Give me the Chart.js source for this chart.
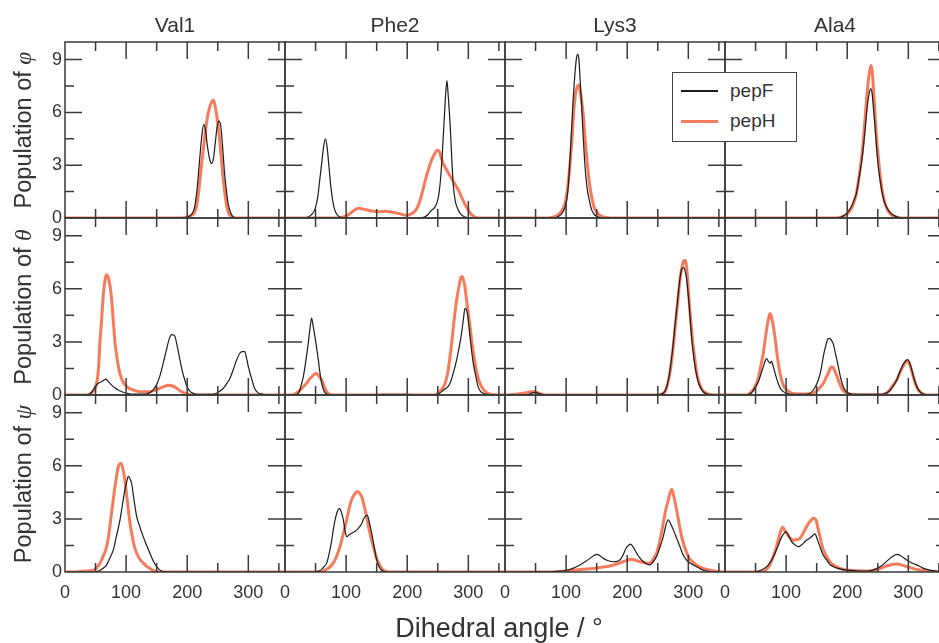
<!DOCTYPE html>
<html><head><meta charset="utf-8">
<script src="https://cdn.jsdelivr.net/npm/chart.js@4/dist/chart.umd.min.js"></script>
<style>
html,body{margin:0;padding:0;background:#fff;overflow:hidden;}
#wrap{position:relative;width:939px;height:643px;overflow:hidden;background:#fff;}
#wrap canvas{position:absolute;left:0;top:0;}
.t{position:absolute;font-family:'Liberation Sans',Arial,sans-serif;color:#333;white-space:nowrap;text-align:center;}
.sym{font-family:'Liberation Serif','DejaVu Serif',serif;font-style:italic;}
</style></head><body><div id="wrap"></div>
<script>
// ---- data ----
const residues = ['Val1','Phe2','Lys3','Ala4'];
const angleNames = ['φ','θ','ψ'];
const seriesNames = ['pepF','pepH'];
const xTickLabels = [0,100,200,300];
const yTickLabels = [0,3,6,9];

const val1PhiF = [[0,0],[190,0],[200,0.05],[207,0.2],[212,0.6],[216,1.6],[220,3.2],[224,4.7],[227,5.3],[230,5.0],[233,4.1],[237,3.3],[240,3.1],[243,3.4],[246,4.3],[249,5.2],[252,5.5],[255,5.2],[258,4.0],[261,2.6],[264,1.6],[267,0.8],[271,0.3],[276,0.05],[282,0],[360,0]];
const val1PhiH = [[0,0],[190,0],[200,0.05],[207,0.15],[212,0.3],[216,0.8],[220,1.9],[224,3.2],[228,4.4],[232,5.5],[236,6.2],[240,6.6],[243,6.7],[246,6.3],[250,5.4],[254,4.1],[258,2.5],[262,1.3],[265,0.6],[269,0.2],[274,0.05],[280,0],[360,0]];
const phe2PhiF = [[0,0],[32,0],[38,0.05],[42,0.15],[46,0.3],[50,0.6],[54,1.3],[57,2.2],[60,3.1],[63,4.0],[66,4.5],[69,4.0],[72,2.9],[75,1.8],[78,1.0],[81,0.5],[85,0.2],[90,0.05],[98,0],[220,0],[228,0.05],[234,0.2],[240,0.45],[245,0.6],[249,0.9],[252,1.4],[255,2.4],[258,4.0],[261,5.9],[263,7.1],[265,7.8],[267,7.0],[269,6.0],[271,4.8],[273,3.3],[275.5,1.8],[279,0.9],[283,0.5],[288,0.2],[295,0.05],[305,0],[360,0]];
const phe2PhiH = [[0,0],[88,0],[95,0.05],[102,0.15],[110,0.35],[116,0.5],[122,0.55],[128,0.5],[135,0.45],[145,0.38],[155,0.35],[165,0.38],[172,0.35],[180,0.3],[190,0.22],[199,0.15],[205,0.2],[210,0.3],[215,0.5],[220,0.9],[225,1.5],[230,2.2],[235,2.8],[240,3.3],[245,3.65],[249,3.85],[252,3.8],[256,3.4],[260,3.0],[265,2.7],[270,2.4],[275,2.1],[280,1.8],[285,1.5],[290,1.1],[295,0.75],[300,0.45],[305,0.2],[310,0.07],[318,0],[360,0]];
const lys3PhiF = [[0,0],[80,0],[88,0.1],[94,0.3],[98,0.6],[101,1.0],[104,2.0],[108,4.4],[111,6.4],[114,8.0],[117,9.1],[119,9.3],[121,9.0],[123,7.8],[125.5,6.3],[128,4.6],[131,2.9],[134,1.8],[138,1.0],[142,0.45],[147,0.17],[153,0.05],[160,0],[360,0]];
const lys3PhiH = [[0,0],[70,0],[78,0.05],[86,0.15],[92,0.35],[98,0.8],[102,1.6],[106,2.9],[110,4.7],[113,6.3],[116,7.2],[119,7.5],[121,7.55],[124,7.0],[128,5.9],[131,4.5],[134.7,3.1],[138,2.0],[141.8,1.2],[146,0.6],[152,0.26],[158,0.1],[166,0.03],[175,0],[360,0]];
const ala4PhiF = [[0,0],[180,0],[190,0.05],[199,0.26],[206,0.6],[211,1.0],[215,1.4],[220,2.4],[224,3.3],[227,4.2],[230,5.3],[233,6.4],[236,7.1],[238.5,7.35],[241,7.0],[243,6.2],[245.5,5.2],[248,4.0],[251,2.9],[254,2.1],[258,1.3],[262,0.8],[268,0.4],[275,0.17],[285,0.03],[295,0],[360,0]];
const ala4PhiH = [[0,0],[180,0],[190,0.05],[199,0.2],[206,0.5],[211,0.9],[215,1.4],[220,2.5],[224,3.6],[227,4.7],[230,6.0],[233,7.3],[236,8.2],[239,8.66],[241,8.3],[243,7.3],[245.5,5.9],[248,4.6],[251,3.4],[254,2.4],[258,1.4],[262,0.8],[268,0.35],[275,0.12],[285,0.02],[295,0],[360,0]];

const val1ThetaF = [[0,0],[35,0],[42,0.1],[46,0.28],[50,0.5],[55,0.68],[60,0.75],[64,0.85],[67,0.9],[70,0.8],[73,0.68],[76,0.57],[81,0.42],[87,0.28],[94,0.17],[101,0.1],[115,0.05],[130,0.05],[138,0.12],[144,0.28],[150,0.6],[155,1.05],[160,1.7],[166,2.55],[170,3.1],[174,3.4],[177,3.4],[180,3.3],[184,2.7],[188,2.0],[192,1.35],[196,0.85],[200,0.45],[205,0.19],[212,0.07],[221,0.04],[240,0.04],[248,0.1],[255,0.25],[260,0.42],[265,0.66],[270,0.95],[275,1.4],[280,1.9],[286,2.36],[290,2.45],[294,2.45],[297,2.1],[300,1.6],[303,1.2],[306,0.85],[310,0.4],[315,0.15],[320,0.06],[326,0.02],[335,0],[360,0]];
const val1ThetaH = [[0,0],[35,0],[41,0.05],[46,0.2],[50,0.45],[53,0.9],[55,1.6],[57,2.9],[60,4.3],[63,5.8],[66,6.6],[68,6.8],[71,6.6],[74,6.1],[76,5.5],[79,4.2],[82,2.9],[86,1.9],[90,1.2],[95,0.75],[101,0.47],[110,0.3],[122,0.19],[139,0.19],[147,0.27],[155,0.38],[162,0.48],[169,0.55],[175,0.52],[183,0.38],[190,0.2],[196,0.1],[204,0.02],[212,0],[360,0]];
const phe2ThetaF = [[0,0],[15,0],[22,0.1],[26,0.5],[30,1.04],[34,1.9],[38,2.9],[41,3.8],[43.6,4.34],[46,3.9],[49,3.3],[52,2.6],[54.5,2.0],[57,1.3],[60,0.66],[63,0.3],[66,0.1],[70,0.03],[78,0],[150,0],[160,0.04],[200,0.04],[215,0],[245,0],[253,0.1],[260,0.3],[266,0.45],[270,0.66],[275,1.2],[281,2.0],[285,2.7],[289,3.5],[292,4.3],[294.5,4.9],[297,4.8],[299,4.5],[302.7,3.3],[305,2.6],[308,1.8],[312,1.1],[316,0.47],[320,0.2],[324.5,0.1],[332,0.02],[340,0],[360,0]];
const phe2ThetaH = [[0,0],[12,0],[18,0.1],[24,0.25],[30,0.47],[36,0.7],[41,0.94],[46,1.1],[51,1.23],[55,1.1],[60,0.85],[64,0.5],[68,0.19],[73,0.03],[80,0],[245,0],[250,0.1],[256,0.3],[262,0.66],[266,1.2],[269,1.9],[272.7,2.9],[276,4.0],[281,5.4],[285,6.2],[288,6.65],[290,6.7],[292,6.5],[294.5,6.1],[297,5.4],[300,4.6],[302.7,3.9],[306,2.9],[310.9,1.8],[315,1.1],[319,0.66],[324,0.35],[330,0.13],[338,0.03],[345,0],[360,0]];
const lys3ThetaF = [[0,0],[35,0],[40,0.05],[45,0.12],[50,0.15],[55,0.08],[62,0.02],[70,0],[250,0],[255,0.05],[259,0.1],[263,0.3],[267,0.8],[270,1.4],[274,2.5],[278,3.9],[282,5.2],[286,6.5],[289,7.1],[292,7.2],[294,7.1],[297,6.6],[300,5.6],[303,4.3],[305.5,3.2],[309,2.1],[313.6,1.1],[318,0.55],[324.5,0.17],[332,0.04],[341,0],[360,0]];
const lys3ThetaH = [[0,0],[5,0],[15,0.03],[25,0.08],[35,0.13],[42,0.18],[47,0.2],[52,0.15],[58,0.07],[65,0],[250,0],[256,0.05],[260,0.12],[264,0.35],[268,0.9],[271,1.5],[275,2.6],[279,4.0],[283,5.4],[287,6.7],[290,7.3],[293,7.6],[295,7.6],[298,6.9],[300,5.9],[303,4.6],[306,3.4],[310,2.2],[314,1.2],[319,0.55],[325,0.2],[333,0.05],[342,0],[360,0]];
const ala4ThetaF = [[0,0],[35,0],[40,0.05],[44,0.15],[49,0.4],[54.5,0.75],[59,1.2],[62.7,1.6],[66,1.95],[68,2.05],[71,1.9],[74,1.8],[76,1.9],[79,1.6],[83,1.1],[87,0.66],[91,0.35],[95.5,0.19],[102,0.08],[112,0.03],[125,0.03],[135,0.05],[140,0.12],[146,0.35],[152.7,0.85],[157,1.4],[161,2.2],[165,2.8],[168,3.15],[171,3.2],[174,3.1],[177,2.9],[181,2.3],[185.5,1.6],[189,1.0],[193.6,0.47],[198,0.2],[204.6,0.08],[212,0.03],[230,0.03],[255,0.03],[262,0.08],[268,0.2],[274,0.45],[281,0.85],[286,1.3],[291.8,1.75],[296,1.95],[299,2.0],[302,1.85],[305,1.5],[308,1.1],[312,0.65],[316,0.33],[320,0.15],[326,0.04],[335,0],[360,0]];
const ala4ThetaH = [[0,0],[35,0],[41,0.1],[46,0.3],[51.8,0.66],[56,1.2],[59,1.7],[62.7,2.36],[66,3.2],[70,4.1],[73.6,4.6],[76,4.4],[79,3.9],[82,3.2],[86,2.1],[90,1.23],[95,0.6],[101,0.28],[108,0.12],[117,0.06],[135,0.06],[145,0.12],[150,0.22],[155,0.4],[161,0.66],[165,0.95],[169,1.23],[172,1.5],[175,1.6],[178,1.5],[182.7,1.1],[187,0.7],[191,0.38],[195,0.2],[199,0.1],[206,0.04],[215,0.02],[255,0.02],[262,0.08],[268,0.22],[274,0.5],[281,0.85],[286,1.25],[291.8,1.65],[296,1.85],[299,1.9],[302,1.75],[305,1.45],[308,1.04],[312,0.6],[316,0.3],[319,0.19],[324,0.06],[330,0],[360,0]];

const val1PsiF = [[0,0],[45,0],[52,0.03],[58,0.1],[64,0.25],[68.2,0.4],[73,0.75],[79,1.25],[84,2.0],[90,2.94],[94,3.8],[98,4.64],[101,5.1],[103.5,5.4],[106,5.3],[109,5.0],[112,4.3],[115,3.6],[117.3,3.13],[122,2.6],[128,2.0],[133,1.55],[139,1.06],[144,0.65],[150,0.3],[155,0.12],[161,0.02],[170,0],[360,0]];
const val1PsiH = [[0,0],[15,0],[25,0.03],[35,0.05],[46.4,0.1],[52,0.25],[57.3,0.5],[62,0.85],[68.2,1.43],[72,2.2],[76,3.3],[79,4.1],[83,5.1],[87.3,5.96],[91.7,6.15],[95,5.8],[98,5.2],[101,4.3],[104,3.4],[106.4,2.75],[110,2.0],[113,1.5],[117.3,1.06],[122,0.75],[128,0.5],[134,0.32],[139,0.2],[145,0.08],[150,0.02],[158,0],[360,0]];
const phe2PsiF = [[0,0],[48,0],[55,0.05],[60,0.15],[64,0.3],[68.2,0.5],[72,1.0],[76,1.7],[79,2.38],[83,3.1],[86,3.45],[88.9,3.6],[92,3.4],[95.5,2.94],[98,2.4],[100.9,2.0],[105,2.1],[109,2.19],[115,2.3],[120,2.47],[125,2.7],[128,2.95],[131,3.13],[134.7,3.2],[138,2.8],[141.8,2.19],[146,1.4],[150,0.68],[154,0.3],[158,0.1],[163,0.02],[170,0],[360,0]];
const phe2PsiH = [[0,0],[58,0],[63,0.05],[68,0.15],[74,0.3],[79,0.5],[84,0.85],[90,1.43],[95,2.1],[100.9,2.94],[105,3.6],[109,4.08],[114,4.4],[118.4,4.55],[122,4.45],[125.5,4.26],[129,3.8],[133.6,3.13],[137,2.5],[141.8,1.8],[146,1.25],[150,0.77],[154,0.45],[158,0.2],[163,0.07],[169,0],[360,0]];
const lys3PsiF = [[0,0],[46,0],[60,0.01],[79,0.02],[90,0.05],[100.9,0.1],[112,0.22],[122.7,0.4],[131,0.58],[139,0.77],[145,0.92],[151,1.0],[156,0.9],[160.9,0.77],[168,0.65],[177.3,0.58],[183,0.6],[188,0.68],[193,0.95],[198,1.34],[202,1.5],[205.7,1.58],[210,1.4],[215.5,1.06],[221,0.78],[226.4,0.58],[232,0.45],[237,0.4],[242,0.55],[248,0.87],[253,1.35],[259,2.0],[263,2.6],[267.3,2.94],[270,2.8],[275.5,2.38],[281,1.9],[286.4,1.43],[291,1.0],[297,0.68],[302,0.52],[308,0.4],[316,0.25],[324.5,0.1],[332,0.04],[341,0],[360,0]];
const lys3PsiH = [[0,0],[79,0],[95,0.04],[111.8,0.1],[128,0.15],[144.5,0.2],[158,0.27],[171.8,0.34],[183,0.45],[193.6,0.58],[200,0.66],[207,0.72],[214,0.65],[220.9,0.58],[228,0.53],[237,0.5],[242,0.7],[248,1.06],[253,1.7],[259,2.75],[263,3.5],[267.3,4.08],[270,4.45],[272.7,4.68],[276,4.3],[280.9,3.5],[285,2.7],[289,2.0],[294,1.4],[300,0.87],[306,0.6],[313.6,0.4],[321,0.25],[330,0.15],[340,0.07],[352,0.02],[360,0]];
const ala4PsiF = [[0,0],[48,0],[55,0.05],[62,0.15],[68.2,0.3],[75,0.6],[81.8,1.06],[87,1.5],[93,2.0],[97,2.2],[99.9,2.28],[104,2.05],[109,1.72],[114,1.55],[120,1.43],[126,1.55],[130.9,1.72],[136,1.85],[141.8,2.0],[147.3,2.15],[151,1.85],[155.4,1.43],[160,1.0],[166.4,0.68],[171,0.45],[177.3,0.3],[188,0.18],[199,0.11],[215,0.07],[232,0.05],[243,0.12],[253.7,0.3],[262,0.52],[270,0.77],[276,0.92],[282,1.0],[288,0.9],[297.3,0.68],[305,0.52],[313.6,0.4],[324,0.22],[335.5,0.11],[346,0.05],[360,0.02]];
const ala4PsiH = [[0,0],[55,0],[62.7,0.02],[68,0.15],[74,0.45],[79,0.87],[84,1.4],[90,2.19],[94.4,2.53],[97,2.4],[101,2.19],[106,1.95],[111.8,1.8],[117,1.82],[122.7,1.9],[128,2.2],[133.6,2.57],[139,2.85],[144.5,3.04],[149,2.94],[152,2.5],[155.4,2.0],[160,1.35],[166.4,0.87],[171,0.6],[177.3,0.4],[188,0.2],[199,0.11],[215,0.07],[232,0.05],[243,0.1],[253.7,0.2],[262,0.32],[270,0.4],[276,0.44],[281,0.45],[289,0.4],[297.3,0.3],[308,0.2],[319,0.11],[330,0.05],[341,0.02],[360,0]];

const panelData = [
  [[val1PhiF,val1PhiH],[phe2PhiF,phe2PhiH],[lys3PhiF,lys3PhiH],[ala4PhiF,ala4PhiH]],
  [[val1ThetaF,val1ThetaH],[phe2ThetaF,phe2ThetaH],[lys3ThetaF,lys3ThetaH],[ala4ThetaF,ala4ThetaH]],
  [[val1PsiF,val1PsiH],[phe2PsiF,phe2PsiH],[lys3PsiF,lys3PsiH],[ala4PsiF,ala4PsiH]]
];

// ---- layout ----
const W = 950, H = 643;
const colLeft = [65,285,505,725], colW = 220;
const rowTop = [42,218,395], rowBot = [218,395,572];
const FONT = "'Liberation Sans', Arial, sans-serif";
const INK = '#3a3a3a';
const black = '#1c1c1c', orange = 'rgba(243,100,64,0.85)';

const frameTicks = {
  id: 'frameTicks',
  afterDatasetsDraw(chart) {
    const {ctx, chartArea: a, scales: {x, y}} = chart;
    ctx.save();
    ctx.strokeStyle = INK; ctx.lineWidth = 1.5;
    ctx.strokeRect(a.left, a.top, a.right - a.left, a.bottom - a.top);
    ctx.beginPath();
    x.ticks.forEach(t => {
      const v = t.value; if (v <= 0 || v >= 360) return;
      const len = (v % 100 === 0) ? 17 : 9;
      const px = x.getPixelForValue(v);
      ctx.moveTo(px, a.bottom); ctx.lineTo(px, a.bottom - len);
      ctx.moveTo(px, a.top); ctx.lineTo(px, a.top + len);
    });
    y.ticks.forEach(t => {
      const v = t.value; if (v <= 0 || v > 9.01) return;
      const len = (Math.abs(v % 3) < 1e-6) ? 17 : 9;
      const py = y.getPixelForValue(v);
      ctx.moveTo(a.left, py); ctx.lineTo(a.left + len, py);
      ctx.moveTo(a.right, py); ctx.lineTo(a.right - len, py);
    });
    ctx.stroke();
    ctx.restore();
  }
};

function spacer(position, size, horizontal) {
  return {
    type: 'linear', position, display: true, min: 0, max: 1,
    grid: {display: false, drawTicks: false}, border: {display: false},
    ticks: {display: false},
    afterFit: s => { if (horizontal) s.height = size; else s.width = size; }
  };
}

const wrap = document.getElementById('wrap');
for (let r = 0; r < 3; r++) {
  for (let c = 0; c < 4; c++) {
    const cv = document.createElement('canvas');
    cv.width = W; cv.height = H;
    cv.style.width = W + 'px'; cv.style.height = H + 'px';
    wrap.appendChild(cv);
    const L = colLeft[c], R = colLeft[c] + colW, T = rowTop[r], B = rowBot[r];
    const [F, Hh] = panelData[r][c];
    new Chart(cv, {
      type: 'line',
      data: {
        datasets: [
          {label: seriesNames[0], data: F.map(p => ({x: p[0], y: p[1]})), borderColor: black, borderWidth: 1.2, pointRadius: 0, cubicInterpolationMode: 'monotone', order: 0},
          {label: seriesNames[1], data: Hh.map(p => ({x: p[0], y: p[1]})), borderColor: orange, borderWidth: 3, pointRadius: 0, cubicInterpolationMode: 'monotone', order: 1}
        ]
      },
      options: {
        responsive: false, animation: false, devicePixelRatio: 1,
        layout: {padding: 0},
        plugins: {legend: {display: false}, tooltip: {enabled: false}},
        events: [],
        scales: {
          x: {
            type: 'linear', position: 'bottom', min: 0, max: 360, display: true,
            grid: {display: false, drawTicks: false}, border: {display: false},
            ticks: {display: r === 2, stepSize: 50, includeBounds: false, autoSkip: false, maxRotation: 0, padding: 10, color: '#333',
              font: {family: FONT, size: 18},
              callback: v => xTickLabels.includes(v) ? String(v) : ''},
            afterFit: s => { s.height = H - B; }
          },
          y: {
            type: 'linear', position: 'left', min: 0, max: 10, display: true,
            grid: {display: false, drawTicks: false}, border: {display: false},
            ticks: {display: c === 0, stepSize: 1.5, includeBounds: false, autoSkip: false, padding: 3, color: '#333',
              font: {family: FONT, size: 18},
              callback: v => yTickLabels.some(k => Math.abs(k - v) < 1e-6) ? String(Math.round(v)) : ''},
            afterFit: s => { s.width = L; }
          },
          xTop: spacer('top', T, true),
          yRight: spacer('right', W - R, false)
        }
      },
      plugins: [frameTicks]
    });
  }
}

// ---- text ----
function addText(html, style) {
  const d = document.createElement('div');
  d.className = 't';
  d.innerHTML = html;
  Object.assign(d.style, style);
  wrap.appendChild(d);
  return d;
}
residues.forEach((name, c) => {
  const cx = colLeft[c] + colW / 2;
  addText(name, {left: (cx - 100) + 'px', width: '200px', top: '13px', fontSize: '21px', lineHeight: '24px', zIndex: 5});
});
angleNames.forEach((sym, r) => {
  const cy = (rowTop[r] + rowBot[r]) / 2;
  addText('Population of <span class="sym">' + sym + '</span>', {
    left: (23 - 120) + 'px', width: '240px', top: (cy - 14) + 'px', height: '28px',
    fontSize: '23.5px', lineHeight: '28px', transform: 'rotate(-90deg)', transformOrigin: '50% 50%', zIndex: 5});
});
addText('Dihedral angle / °', {left: '349px', width: '300px', top: '612px', fontSize: '27px', lineHeight: '32px', zIndex: 5});

// legend (HTML, opaque box over the panels)
const lg = document.createElement('div');
Object.assign(lg.style, {position: 'absolute', left: '672px', top: '72px', width: '123px', height: '68px', border: '1.5px solid #444', background: '#fff', zIndex: 6});
wrap.appendChild(lg);
[[black, 1.3, 18, seriesNames[0]], [orange, 3, 48, seriesNames[1]]].forEach(([col, w, y, txt]) => {
  const ln = document.createElement('div');
  Object.assign(ln.style, {position: 'absolute', left: '8px', width: '37px', top: (y - w / 2) + 'px', height: w + 'px', background: col});
  lg.appendChild(ln);
  const tx = document.createElement('div');
  tx.className = 't';
  Object.assign(tx.style, {left: '57px', top: (y - 12) + 'px', fontSize: '19px', lineHeight: '24px', textAlign: 'left'});
  tx.textContent = txt;
  lg.appendChild(tx);
});
</script>
</body></html>
